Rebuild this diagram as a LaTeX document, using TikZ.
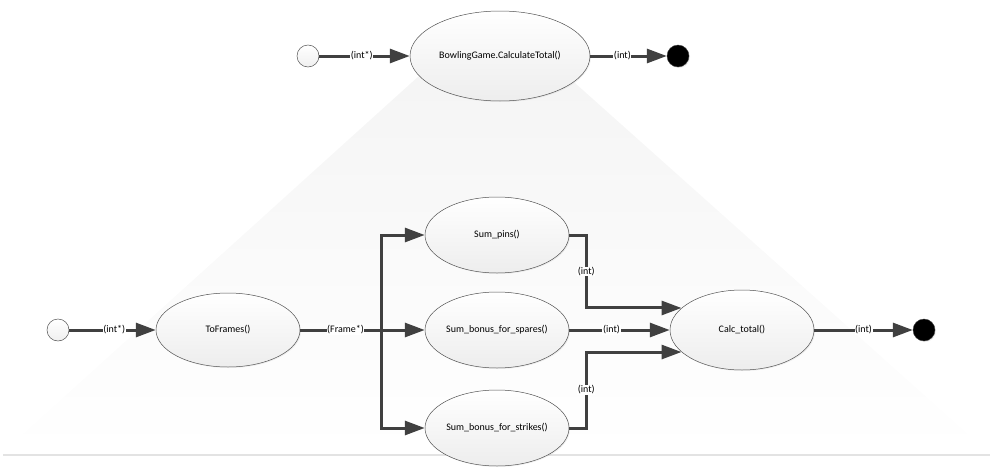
\documentclass[tikz,border=0pt]{standalone}
\usepackage{fontspec}
\setmainfont{Carlito}
\usetikzlibrary{shapes.geometric,arrows.meta,shadows}

\definecolor{flowgray}{HTML}{404040}

\begin{document}
\begin{tikzpicture}[x=1pt,y=-1pt,
  font=\fontsize{10}{12}\selectfont,
  activity/.style={ellipse,draw=flowgray!90,line width=0.5pt,inner sep=0pt,
    top color=white,bottom color=gray!14,
    drop shadow={opacity=0.12,shadow xshift=1pt,shadow yshift=-1pt}},
  startdot/.style={circle,draw=flowgray!90,line width=0.5pt,minimum size=22pt,
    inner sep=0pt,top color=white,bottom color=gray!12},
  enddot/.style={circle,draw=flowgray,fill=black,minimum size=22pt,inner sep=0pt,
    drop shadow={opacity=0.15,shadow xshift=1pt,shadow yshift=-1pt}},
  flow/.style={draw=flowgray,line width=3pt,
    -{Triangle[length=20pt,width=14pt]}},
  lbl/.style={fill=white,inner sep=0.6pt}]
  \useasboundingbox (0,0) rectangle (993,471);

  % background wedge below the top activity
  \shade[top color=gray!8,bottom color=white] (420,75) -- (566,75) -- (988,452) -- (3,452) -- cycle;
  \draw[gray!22,line width=2pt] (3,455) -- (990,455);

  % top level
  \node[startdot] (init1) at (308,56) {};
  \node[activity,minimum width=180pt,minimum height=90pt] (game) at (500,56) {BowlingGame.CalculateTotal()};
  \node[enddot] (final1) at (678,56) {};
  \draw[flow] (init1) -- node[lbl,pos=0.47]{(int*)} (game);
  \draw[flow] (game) -- node[lbl,pos=0.42]{(int)} (final1);

  % decomposition
  \node[startdot] (init2) at (58,330) {};
  \node[activity,minimum width=144pt,minimum height=74pt] (toframes) at (228,330) {ToFrames()};
  \node[activity,minimum width=144pt,minimum height=76pt] (pins) at (497,235) {Sum\_pins()};
  \node[activity,minimum width=144pt,minimum height=76pt] (spares) at (497,330) {Sum\_bonus\_for\_spares()};
  \node[activity,minimum width=144pt,minimum height=76pt] (strikes) at (497,428) {Sum\_bonus\_for\_strikes()};
  \node[activity,minimum width=144pt,minimum height=80pt] (total) at (742,330) {Calc\_total()};
  \node[enddot] (final2) at (924,330) {};
  \coordinate (split) at (381,330);

  \draw[flow] (init2) -- node[lbl,pos=0.52]{(int*)} (toframes);
  \draw[draw=flowgray,line width=3pt] (toframes) -- node[lbl,pos=0.56]{(Frame*)} (split);
  \draw[flow] (split) -- (spares);
  \draw[flow] (split) |- (pins);
  \draw[flow] (split) |- (strikes);
  \draw[flow] (pins.east) -- ++(17,0) |- node[lbl,pos=0.25]{(int)} (total.160);
  \draw[flow] (spares) -- node[lbl,pos=0.42]{(int)} (total);
  \draw[flow] (strikes.east) -- ++(17,0) |- node[lbl,pos=0.25]{(int)} (total.200);
  \draw[flow] (total) -- node[lbl,pos=0.5]{(int)} (final2);
\end{tikzpicture}
\end{document}
